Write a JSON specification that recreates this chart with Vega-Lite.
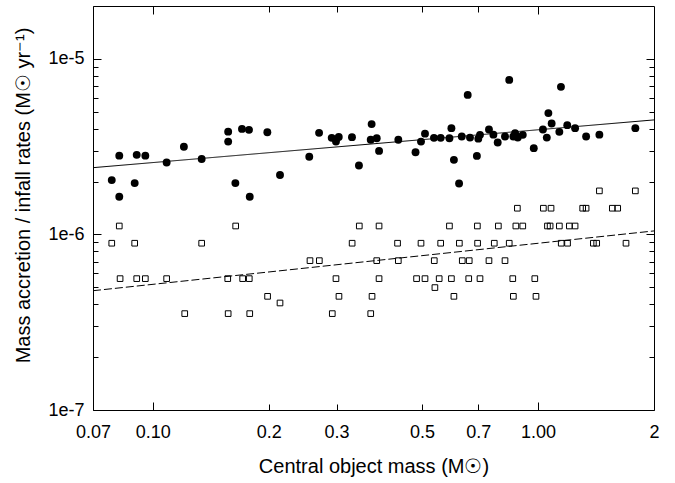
{
  "$schema": "https://vega.github.io/schema/vega-lite/v6.json",
  "width": 561,
  "height": 404,
  "autosize": {"type": "none"},
  "padding": {"left": 93, "top": 6, "right": 21, "bottom": 73},
  "background": "white",
  "config": {
    "view": {"stroke": "#000000", "strokeWidth": 1},
    "axis": {
      "labelFont": "Liberation Sans",
      "titleFont": "Liberation Sans",
      "labelFontSize": 18,
      "titleFontSize": 20,
      "titleFontWeight": "normal",
      "labelColor": "#000000",
      "titleColor": "#000000",
      "tickColor": "#000000",
      "tickWidth": 1,
      "grid": false,
      "domain": false
    }
  },
  "resolve": {"axis": {"x": "independent", "y": "independent"}},
  "layer": [
    {
      "data": {"values": [
        {"m": 0.07, "r": 2.40e-6, "fit": "accretion"},
        {"m": 2, "r": 4.49e-6, "fit": "accretion"},
        {"m": 0.07, "r": 4.78e-7, "fit": "infall"},
        {"m": 2, "r": 1.047e-6, "fit": "infall"}
      ]},
      "mark": {"type": "line", "color": "#000000", "strokeWidth": 1},
      "encoding": {
        "x": {"field": "m", "type": "quantitative", "scale": {"type": "log", "domain": [0.07, 2], "nice": false}, "axis": null},
        "y": {"field": "r", "type": "quantitative", "scale": {"type": "log", "domain": [1e-7, 2e-5], "nice": false}, "axis": null},
        "strokeDash": {"field": "fit", "type": "nominal", "scale": {"domain": ["accretion", "infall"], "range": [[1, 0], [8, 3]]}, "legend": null}
      }
    },
    {
      "data": {"values": [
        {"m": 0.0783, "r": 2.04e-6}, {"m": 0.0819, "r": 2.81e-6}, {"m": 0.0819, "r": 1.64e-6},
        {"m": 0.0898, "r": 1.96e-6}, {"m": 0.0909, "r": 2.84e-6}, {"m": 0.0957, "r": 2.81e-6},
        {"m": 0.1087, "r": 2.57e-6}, {"m": 0.1205, "r": 3.16e-6}, {"m": 0.134, "r": 2.69e-6},
        {"m": 0.157, "r": 3.85e-6}, {"m": 0.157, "r": 3.38e-6}, {"m": 0.1639, "r": 1.96e-6},
        {"m": 0.1705, "r": 3.99e-6}, {"m": 0.1778, "r": 3.94e-6}, {"m": 0.1786, "r": 1.64e-6},
        {"m": 0.1984, "r": 3.82e-6}, {"m": 0.214, "r": 2.18e-6}, {"m": 0.2549, "r": 2.77e-6},
        {"m": 0.2703, "r": 3.79e-6}, {"m": 0.2915, "r": 3.55e-6}, {"m": 0.299, "r": 3.38e-6},
        {"m": 0.304, "r": 3.59e-6}, {"m": 0.329, "r": 3.58e-6}, {"m": 0.343, "r": 2.47e-6},
        {"m": 0.370, "r": 4.25e-6}, {"m": 0.368, "r": 3.46e-6}, {"m": 0.3815, "r": 3.53e-6},
        {"m": 0.3868, "r": 2.99e-6}, {"m": 0.434, "r": 3.46e-6}, {"m": 0.481, "r": 2.94e-6},
        {"m": 0.497, "r": 3.38e-6}, {"m": 0.509, "r": 3.75e-6}, {"m": 0.537, "r": 3.55e-6},
        {"m": 0.559, "r": 3.55e-6}, {"m": 0.589, "r": 3.53e-6}, {"m": 0.596, "r": 4.03e-6},
        {"m": 0.605, "r": 2.66e-6}, {"m": 0.624, "r": 1.95e-6}, {"m": 0.634, "r": 3.61e-6},
        {"m": 0.657, "r": 6.23e-6}, {"m": 0.666, "r": 3.56e-6}, {"m": 0.694, "r": 2.80e-6},
        {"m": 0.700, "r": 3.51e-6}, {"m": 0.707, "r": 3.69e-6}, {"m": 0.746, "r": 3.96e-6},
        {"m": 0.766, "r": 3.70e-6}, {"m": 0.786, "r": 3.34e-6}, {"m": 0.821, "r": 3.61e-6},
        {"m": 0.842, "r": 7.59e-6}, {"m": 0.863, "r": 3.61e-6}, {"m": 0.872, "r": 3.77e-6},
        {"m": 0.886, "r": 3.56e-6}, {"m": 0.913, "r": 3.69e-6}, {"m": 0.975, "r": 3.10e-6},
        {"m": 1.030, "r": 3.96e-6}, {"m": 1.054, "r": 3.56e-6}, {"m": 1.064, "r": 4.91e-6},
        {"m": 1.085, "r": 4.28e-6}, {"m": 1.136, "r": 3.84e-6}, {"m": 1.147, "r": 6.93e-6},
        {"m": 1.191, "r": 4.19e-6}, {"m": 1.248, "r": 4.03e-6}, {"m": 1.333, "r": 3.61e-6},
        {"m": 1.443, "r": 3.70e-6}, {"m": 1.789, "r": 4.03e-6}
      ]},
      "mark": {"type": "point", "shape": "circle", "filled": true, "color": "#000000", "size": 62, "opacity": 1},
      "encoding": {
        "x": {"field": "m", "type": "quantitative", "scale": {"type": "log", "domain": [0.07, 2], "nice": false},
          "axis": {
            "orient": "bottom",
            "values": [0.07, 0.1, 0.2, 0.3, 0.5, 0.7, 1, 2],
            "labelExpr": "datum.value == 0.1 ? '0.10' : datum.value == 1 ? '1.00' : '' + datum.value",
            "labelFlush": false,
            "labelOverlap": false,
            "tickSize": {"condition": {"test": "datum.value == 0.1 || datum.value == 1", "value": -8}, "value": -6},
            "labelPadding": {"condition": {"test": "datum.value == 0.1 || datum.value == 1", "value": 21}, "value": 19},
            "title": "Central object mass (M☉)",
            "titleX": 280.5,
            "titleY": 62,
            "titleAlign": "center",
            "titleBaseline": "alphabetic"
          }
        },
        "y": {"field": "r", "type": "quantitative", "scale": {"type": "log", "domain": [1e-7, 2e-5], "nice": false},
          "axis": {
            "orient": "left",
            "values": [1e-7, 2e-7, 3e-7, 4e-7, 5e-7, 6e-7, 7e-7, 8e-7, 9e-7, 1e-6, 2e-6, 3e-6, 4e-6, 5e-6, 6e-6, 7e-6, 8e-6, 9e-6, 1e-5, 2e-5],
            "labelExpr": "abs(log(datum.value)/LN10 - round(log(datum.value)/LN10)) < 0.001 ? '1e' + round(log(datum.value)/LN10) : ''",
            "labelOverlap": false,
            "labelFlush": false,
            "tickSize": {"condition": {"test": "abs(log(datum.value)/LN10 - round(log(datum.value)/LN10)) < 0.001", "value": -8}, "value": -5},
            "labelPadding": {"condition": {"test": "abs(log(datum.value)/LN10 - round(log(datum.value)/LN10)) < 0.001", "value": 17}, "value": 14},
            "title": "Mass accretion / infall rates (M☉ yr⁻¹)",
            "titleAngle": 270,
            "titleX": -64,
            "titleY": 189,
            "titleAlign": "center",
            "titleBaseline": "alphabetic"
          }
        }
      }
    },
    {
      "data": {"values": [
        {"m": 0.0819, "r": 1.117e-6}, {"m": 0.0783, "r": 8.91e-7}, {"m": 0.0898, "r": 8.91e-7},
        {"m": 0.134, "r": 8.91e-7}, {"m": 0.1642, "r": 1.117e-6}, {"m": 0.0823, "r": 5.6e-7},
        {"m": 0.0909, "r": 5.6e-7}, {"m": 0.0957, "r": 5.6e-7}, {"m": 0.1087, "r": 5.6e-7},
        {"m": 0.1211, "r": 3.54e-7}, {"m": 0.157, "r": 3.54e-7}, {"m": 0.1566, "r": 5.6e-7},
        {"m": 0.1712, "r": 5.6e-7}, {"m": 0.1781, "r": 5.6e-7}, {"m": 0.1786, "r": 3.54e-7},
        {"m": 0.1987, "r": 4.44e-7}, {"m": 0.214, "r": 4.07e-7}, {"m": 0.256, "r": 7.09e-7},
        {"m": 0.2707, "r": 7.09e-7}, {"m": 0.299, "r": 5.6e-7}, {"m": 0.3044, "r": 4.44e-7},
        {"m": 0.2925, "r": 3.54e-7}, {"m": 0.3293, "r": 8.91e-7}, {"m": 0.3437, "r": 1.117e-6},
        {"m": 0.3709, "r": 4.44e-7}, {"m": 0.368, "r": 3.54e-7}, {"m": 0.3815, "r": 7.09e-7},
        {"m": 0.3868, "r": 1.117e-6}, {"m": 0.3868, "r": 5.6e-7}, {"m": 1.443, "r": 1.77e-6},
        {"m": 1.789, "r": 1.77e-6}, {"m": 0.884, "r": 1.41e-6}, {"m": 1.0325, "r": 1.41e-6},
        {"m": 1.081, "r": 1.41e-6}, {"m": 1.306, "r": 1.41e-6}, {"m": 1.333, "r": 1.41e-6},
        {"m": 1.559, "r": 1.41e-6}, {"m": 1.610, "r": 1.41e-6}, {"m": 0.589, "r": 1.117e-6},
        {"m": 0.696, "r": 1.117e-6}, {"m": 0.789, "r": 1.117e-6}, {"m": 0.876, "r": 1.117e-6},
        {"m": 0.913, "r": 1.117e-6}, {"m": 1.058, "r": 1.117e-6}, {"m": 1.075, "r": 1.117e-6},
        {"m": 1.136, "r": 1.117e-6}, {"m": 1.206, "r": 1.117e-6}, {"m": 1.248, "r": 1.117e-6},
        {"m": 0.432, "r": 8.91e-7}, {"m": 0.497, "r": 8.91e-7}, {"m": 0.559, "r": 8.91e-7},
        {"m": 0.625, "r": 8.91e-7}, {"m": 0.697, "r": 8.91e-7}, {"m": 0.770, "r": 8.91e-7},
        {"m": 0.842, "r": 8.91e-7}, {"m": 1.149, "r": 8.91e-7}, {"m": 1.193, "r": 8.91e-7},
        {"m": 1.392, "r": 8.91e-7}, {"m": 1.420, "r": 8.91e-7}, {"m": 1.692, "r": 8.91e-7},
        {"m": 0.434, "r": 7.09e-7}, {"m": 0.538, "r": 7.09e-7}, {"m": 0.636, "r": 7.09e-7},
        {"m": 0.663, "r": 7.09e-7}, {"m": 0.746, "r": 7.09e-7}, {"m": 0.821, "r": 7.09e-7},
        {"m": 0.484, "r": 5.6e-7}, {"m": 0.509, "r": 5.6e-7}, {"m": 0.554, "r": 5.6e-7},
        {"m": 0.596, "r": 5.6e-7}, {"m": 0.661, "r": 5.6e-7}, {"m": 0.707, "r": 5.6e-7},
        {"m": 0.860, "r": 5.6e-7}, {"m": 0.981, "r": 5.6e-7}, {"m": 0.540, "r": 4.98e-7},
        {"m": 0.605, "r": 4.44e-7}, {"m": 0.863, "r": 4.44e-7}, {"m": 0.988, "r": 4.44e-7}
      ]},
      "mark": {"type": "point", "shape": "square", "filled": false, "stroke": "#000000", "strokeWidth": 1, "size": 32, "opacity": 1},
      "encoding": {
        "x": {"field": "m", "type": "quantitative", "scale": {"type": "log", "domain": [0.07, 2], "nice": false},
          "axis": {
            "orient": "top",
            "values": [0.1, 0.2, 0.3, 0.5, 0.7, 1],
            "labels": false,
            "title": null,
            "tickSize": {"condition": {"test": "datum.value == 0.1 || datum.value == 1", "value": -8}, "value": -6}
          }
        },
        "y": {"field": "r", "type": "quantitative", "scale": {"type": "log", "domain": [1e-7, 2e-5], "nice": false},
          "axis": {
            "orient": "right",
            "values": [2e-7, 3e-7, 4e-7, 5e-7, 6e-7, 7e-7, 8e-7, 9e-7, 1e-6, 2e-6, 3e-6, 4e-6, 5e-6, 6e-6, 7e-6, 8e-6, 9e-6, 1e-5],
            "labels": false,
            "title": null,
            "tickSize": {"condition": {"test": "abs(log(datum.value)/LN10 - round(log(datum.value)/LN10)) < 0.001", "value": -8}, "value": -5}
          }
        }
      }
    }
  ]
}
